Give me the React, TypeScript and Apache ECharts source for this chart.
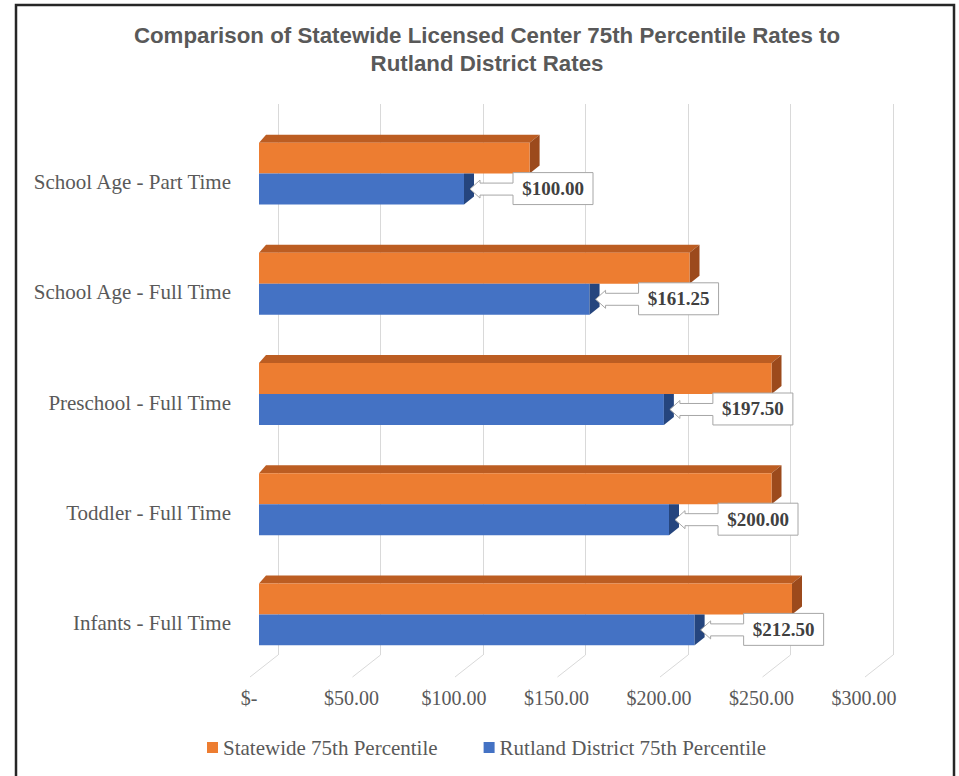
import React, { useEffect, useRef } from "react";
import * as echarts from "echarts";

const categories = [
  "Infants - Full Time",
  "Toddler - Full Time",
  "Preschool - Full Time",
  "School Age - Full Time",
  "School Age - Part Time",
];
const statewide = [260, 250, 250, 210, 132];
const rutland = [212.5, 200, 197.5, 161.25, 100];
const xTicks = [0, 50, 100, 150, 200, 250, 300];
const seriesNames = ["Statewide 75th Percentile", "Rutland District 75th Percentile"];
const titleText = "Comparison of Statewide Licensed Center 75th Percentile Rates to\nRutland District Rates";

const fmt = (v: number) => (v === 0 ? "$-" : "$" + v.toFixed(2));

const SERIF = '"Liberation Serif", "Times New Roman", serif';
const DX = 10;
const DXL = 7;
const DY = 8;
const FRONT_SHIFT = 19;
const CY_SHIFT = 14.5;

export default function App() {
  const ref = useRef<HTMLDivElement>(null);
  useEffect(() => {
    if (!ref.current) return;
    const chart = echarts.init(ref.current, null, { renderer: "svg" });
    const option: any = {
      animation: false,
      backgroundColor: "#ffffff",
      title: {
        text: titleText,
        left: 487,
        textAlign: "center",
        top: 21,
        padding: 0,
        textStyle: {
          fontFamily: '"Liberation Sans", Arial, sans-serif',
          fontWeight: "bold",
          fontSize: 22.3,
          color: "#595959",
          lineHeight: 28,
        },
      },
      legend: {
        data: seriesNames,
        left: 207,
        top: 737,
        padding: 0,
        icon: "rect",
        itemWidth: 11,
        itemHeight: 11,
        itemGap: 46,
        textStyle: { fontFamily: SERIF, fontSize: 21, color: "#595959" },
      },
      graphic: [
        {
          type: "polyline",
          shape: { points: [[16, 780], [16, 5], [954, 5], [954, 780]] },
          style: { stroke: "#262626", lineWidth: 2.5, fill: null },
          silent: true,
        },
      ],
      grid: { left: 278, top: 104, width: 615, height: 551 },
      xAxis: {
        type: "value",
        min: 0,
        max: 300,
        interval: 50,
        axisLine: { show: false },
        axisTick: { show: false },
        splitLine: { show: true, lineStyle: { color: "#d9d9d9", width: 1 } },
        axisLabel: {
          formatter: (v: number) => "{t|" + fmt(v) + "}",
          align: "right",
          showMinLabel: true,
          showMaxLabel: true,
          margin: 33,
          rich: {
            t: {
              width: 58,
              align: "center",
              fontFamily: SERIF,
              fontSize: 20,
              lineHeight: 20,
              color: "#595959",
            },
          },
          fontFamily: SERIF,
          fontSize: 20,
          lineHeight: 20,
          color: "#595959",
        },
      },
      yAxis: {
        type: "category",
        data: categories,
        axisLine: { show: false },
        axisTick: { show: false },
        splitLine: { show: false },
        axisLabel: {
          margin: 47,
          formatter: (v: string) => "{c|" + v + "}",
          rich: {
            c: {
              padding: [46, 0, 0, 0],
              fontFamily: SERIF,
              fontSize: 21,
              color: "#595959",
            },
          },
          fontFamily: SERIF,
          fontSize: 21,
          color: "#595959",
        },
      },
      series: [
        {
          type: "custom",
          name: "floor",
          silent: true,
          z: 1,
          data: xTicks.map((v) => [v, 0]),
          encode: { x: 0, y: 1 },
          renderItem: (params: any, api: any) => {
            const p = api.coord([api.value(0), 0]);
            const cs = params.coordSys;
            const bottom = cs.y + cs.height;
            return {
              type: "line",
              shape: { x1: p[0], y1: bottom, x2: p[0] - 28, y2: bottom + 22 },
              style: { stroke: "#d9d9d9", lineWidth: 1 },
            };
          },
        },
        {
          type: "custom",
          name: seriesNames[0],
          z: 2,
          itemStyle: { color: "#ED7D31" },
          data: statewide.map((v, i) => [v, i]),
          encode: { x: 0, y: 1 },
          renderItem: (params: any, api: any) => {
            const v = api.value(0);
            const i = api.value(1);
            const b = api.coord([0, i]);
            const e = api.coord([v, i]);
            const band = api.size([0, 1])[1];
            const h = band * 0.281;
            const x0 = b[0] - FRONT_SHIFT;
            const x1 = e[0] - FRONT_SHIFT;
            const cy = b[1] + CY_SHIFT;
            const top = cy - h;
            return {
              type: "group",
              children: [
                {
                  type: "polygon",
                  shape: { points: [[x0, top], [x1, top], [x1 + DX, top - DY], [x0 + DXL, top - DY]] },
                  style: { fill: "#BC5D22" },
                },
                {
                  type: "polygon",
                  shape: { points: [[x1, top], [x1 + DX, top - DY], [x1 + DX, cy - DY], [x1, cy]] },
                  style: { fill: "#9C4A1C" },
                },
                {
                  type: "rect",
                  shape: { x: x0, y: top, width: x1 - x0, height: h },
                  style: { fill: "#ED7D31" },
                },
              ],
            };
          },
        },
        {
          type: "custom",
          name: seriesNames[1],
          z: 3,
          itemStyle: { color: "#4472C4" },
          data: rutland.map((v, i) => [v, i]),
          encode: { x: 0, y: 1 },
          renderItem: (params: any, api: any) => {
            const v = api.value(0);
            const i = api.value(1);
            const b = api.coord([0, i]);
            const e = api.coord([v, i]);
            const band = api.size([0, 1])[1];
            const h = band * 0.281;
            const x0 = b[0] - FRONT_SHIFT;
            const x1 = e[0] - FRONT_SHIFT;
            const cy = b[1] + CY_SHIFT;
            const tx = x1 + 6;
            const ty = cy + h / 2;
            const bx = x1 + 49;
            const by = cy - 1;
            const bw = 80;
            const bh = h + 1;
            return {
              type: "group",
              children: [
                {
                  type: "rect",
                  shape: { x: x0, y: cy, width: x1 - x0, height: h },
                  style: { fill: "#4472C4" },
                },
                {
                  type: "polygon",
                  shape: { points: [[x1, cy], [x1 + DX, cy], [x1 + DX, cy + h - DY], [x1, cy + h]] },
                  style: { fill: "#25457E" },
                },
                {
                  type: "polygon",
                  shape: {
                    points: [
                      [bx, by],
                      [bx + bw, by],
                      [bx + bw, by + bh],
                      [bx, by + bh],
                      [bx, ty + 6],
                      [tx + 10, ty + 6],
                      [tx + 10, ty + 9],
                      [tx, ty],
                      [tx + 10, ty - 9],
                      [tx + 10, ty - 6],
                      [bx, ty - 6],
                    ],
                  },
                  style: { fill: "#ffffff", stroke: "#a6a6a6", lineWidth: 1 },
                },
                {
                  type: "text",
                  style: {
                    text: fmt(v),
                    x: bx + bw / 2,
                    y: by + bh / 2,
                    align: "center",
                    verticalAlign: "middle",
                    fontFamily: SERIF,
                    fontWeight: "bold",
                    fontSize: 19,
                    fill: "#404040",
                  },
                },
              ],
            };
          },
        },
      ],
    };
    chart.setOption(option);
    return () => chart.dispose();
  }, []);
  return (
    <div
      ref={ref}
      style={{ position: "fixed", left: 0, top: 0, width: 959, height: 776, background: "#fff" }}
    />
  );
}
